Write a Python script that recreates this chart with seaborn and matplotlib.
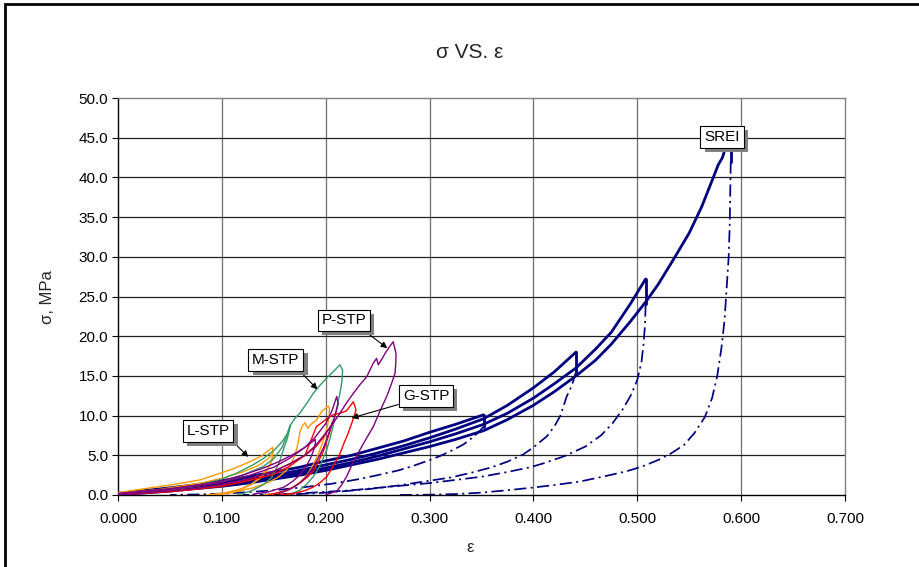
import seaborn as sns
import matplotlib
matplotlib.use("Agg")
from matplotlib import pyplot as plt
from matplotlib import patheffects
from matplotlib.patches import Rectangle

# ---- SREI loading curves (solid) ----
srei_l1_x = [0.0, 0.025, 0.05, 0.075, 0.10, 0.125, 0.15, 0.175, 0.20, 0.225, 0.25, 0.275,
             0.30, 0.325, 0.352]
srei_l1_y = [0.2, 0.55, 0.9, 1.3, 1.8, 2.3, 2.9, 3.5, 4.3, 5.0, 5.9, 6.8,
             7.9, 8.9, 10.1]
srei_l2_x = [0.0, 0.025, 0.05, 0.075, 0.10, 0.125, 0.15, 0.175, 0.20, 0.225, 0.25, 0.275,
             0.30, 0.325, 0.352, 0.375, 0.40, 0.42, 0.441]
srei_l2_y = [0.1, 0.4, 0.7, 1.1, 1.5, 2.0, 2.5, 3.1, 3.8, 4.5, 5.3, 6.2,
             7.2, 8.3, 9.6, 11.3, 13.5, 15.5, 18.0]
srei_l3_x = [0.0, 0.025, 0.05, 0.075, 0.10, 0.125, 0.15, 0.175, 0.20, 0.225, 0.25, 0.275,
             0.30, 0.325, 0.352, 0.375, 0.40, 0.42, 0.441, 0.46, 0.475, 0.493, 0.508]
srei_l3_y = [0.1, 0.35, 0.6, 0.95, 1.3, 1.75, 2.2, 2.8, 3.4, 4.1, 4.9, 5.8,
             6.7, 7.7, 8.9, 10.3, 12.2, 14.0, 16.0, 18.4, 20.5, 24.0, 27.2]
srei_l4_x = [0.0, 0.025, 0.05, 0.075, 0.10, 0.125, 0.15, 0.175, 0.20, 0.225, 0.25, 0.275,
             0.30, 0.325, 0.352, 0.375, 0.40, 0.42, 0.441, 0.46, 0.475, 0.493, 0.508,
             0.52, 0.535, 0.55, 0.562, 0.572, 0.578, 0.582, 0.586, 0.590]
srei_l4_y = [0.05, 0.25, 0.5, 0.8, 1.1, 1.5, 2.0, 2.5, 3.1, 3.8, 4.5, 5.3,
             6.1, 7.0, 8.1, 9.5, 11.3, 13.0, 15.0, 17.0, 19.0, 21.8, 24.3,
             26.5, 29.7, 33.0, 36.3, 39.6, 41.6, 42.5, 44.2, 46.0]
# vertical relaxation at each peak (solid)
srei_drop_x = [0.352, 0.441, 0.508, 0.590]
srei_drop_top = [10.1, 18.0, 27.2, 46.0]
srei_drop_bot = [8.6, 15.5, 24.0, 42.0]

# ---- SREI unloading curves (dash-dot) ----
srei_u1_x = [0.352, 0.347, 0.342, 0.333, 0.323, 0.31, 0.30, 0.285, 0.27, 0.25, 0.23, 0.205,
             0.18, 0.155, 0.13, 0.105, 0.08, 0.05]
srei_u1_y = [8.6, 7.9, 7.3, 6.4, 5.7, 4.9, 4.4, 3.7, 3.1, 2.5, 1.95, 1.4,
             1.0, 0.65, 0.4, 0.2, 0.08, 0.0]
srei_u2_x = [0.441, 0.437, 0.432, 0.426, 0.42, 0.413, 0.40, 0.39, 0.375, 0.36, 0.34, 0.32,
             0.295, 0.27, 0.245, 0.22, 0.195, 0.17, 0.14]
srei_u2_y = [15.5, 13.8, 12.4, 10.0, 8.6, 7.4, 6.0, 5.1, 4.2, 3.5, 2.8, 2.2,
             1.7, 1.2, 0.8, 0.5, 0.25, 0.1, 0.0]
srei_u3_x = [0.508, 0.5075, 0.506, 0.504, 0.500, 0.494, 0.486, 0.476, 0.465, 0.45, 0.43, 0.41,
             0.397, 0.375, 0.35, 0.325, 0.30, 0.275, 0.25, 0.225, 0.20, 0.175, 0.15, 0.12]
srei_u3_y = [24.0, 21.5, 19.0, 16.7, 14.5, 12.6, 10.8, 9.0, 7.5, 6.1, 4.9, 4.0,
             3.5, 2.9, 2.3, 1.9, 1.5, 1.2, 0.9, 0.6, 0.4, 0.2, 0.08, 0.0]
srei_u4_x = [0.590, 0.5895, 0.589, 0.588, 0.586, 0.584, 0.581, 0.577, 0.572, 0.565, 0.555,
             0.545, 0.532, 0.52, 0.505, 0.49, 0.47, 0.445, 0.42, 0.397, 0.375, 0.35,
             0.325, 0.30, 0.27]
srei_u4_y = [42.0, 38.0, 34.0, 30.0, 26.0, 22.0, 18.5, 15.0, 12.2, 9.8, 7.8,
             6.3, 5.2, 4.4, 3.6, 3.0, 2.4, 1.7, 1.25, 0.9, 0.6, 0.3,
             0.12, 0.04, 0.0]

# ---- L-STP (orange) ----
lstp_1_x = [0.0, 0.031, 0.055, 0.079, 0.095, 0.111, 0.127, 0.138, 0.146, 0.149, 0.149,
            0.147, 0.143, 0.137, 0.128, 0.115, 0.10, 0.085]
lstp_1_y = [0.3, 0.9, 1.35, 1.9, 2.6, 3.3, 4.2, 4.9, 5.7, 6.0, 4.7,
            3.9, 3.0, 2.1, 1.3, 0.6, 0.2, 0.0]
lstp_2_x = [0.0, 0.04, 0.08, 0.10, 0.12, 0.135, 0.145, 0.149, 0.148, 0.145, 0.138, 0.130,
            0.12, 0.105, 0.092]
lstp_2_y = [0.2, 0.7, 1.5, 2.1, 2.9, 3.7, 4.6, 5.3, 4.3, 3.5, 2.4, 1.5,
            0.8, 0.3, 0.0]
lstp_3_x = [0.092, 0.11, 0.13, 0.145, 0.155, 0.162, 0.167, 0.170, 0.173, 0.175, 0.177, 0.180,
            0.183, 0.1865, 0.191, 0.196, 0.2025, 0.2035, 0.2035, 0.2015, 0.198, 0.193, 0.188,
            0.183, 0.177, 0.170, 0.162, 0.155, 0.140]
lstp_3_y = [0.0, 0.3, 0.9, 1.6, 2.3, 3.1, 4.0, 4.9, 6.3, 7.8, 8.6, 9.1,
            8.4, 9.0, 9.4, 10.5, 11.2, 11.0, 10.0, 8.6, 7.0, 5.2, 3.8,
            2.7, 1.8, 1.1, 0.5, 0.25, 0.0]

# ---- M-STP (green) ----
mstp_1_x = [0.0, 0.05, 0.08, 0.10, 0.115, 0.13, 0.14, 0.15, 0.158, 0.163, 0.166, 0.165,
            0.163, 0.160, 0.155, 0.148, 0.14, 0.128, 0.115]
mstp_1_y = [0.1, 0.7, 1.3, 2.0, 2.8, 3.8, 4.6, 5.6, 6.7, 7.7, 8.8, 8.2,
            7.1, 6.0, 4.0, 2.2, 1.3, 0.5, 0.0]
mstp_2_x = [0.0, 0.05, 0.08, 0.10, 0.12, 0.14, 0.15, 0.158, 0.162, 0.166, 0.170, 0.175,
            0.182, 0.188, 0.193, 0.200, 0.207, 0.2137, 0.2163, 0.2155, 0.2137, 0.210, 0.207,
            0.204, 0.201, 0.195, 0.188, 0.182, 0.175, 0.168, 0.162]
mstp_2_y = [0.1, 0.6, 1.2, 1.7, 2.5, 3.6, 4.6, 6.0, 7.3, 8.8, 9.6, 10.3,
            11.6, 12.8, 13.6, 14.6, 15.5, 16.4, 15.7, 14.2, 12.8, 10.6, 8.6,
            7.1, 5.7, 3.8, 2.3, 1.4, 0.6, 0.2, 0.0]

# ---- P-STP (purple) ----
pstp_1_x = [0.0, 0.05, 0.08, 0.10, 0.12, 0.14, 0.155, 0.17, 0.18, 0.19, 0.19, 0.188,
            0.185, 0.18, 0.175, 0.168, 0.16, 0.145, 0.13]
pstp_1_y = [0.2, 0.8, 1.3, 1.8, 2.5, 3.4, 4.2, 5.2, 6.0, 7.0, 6.5, 5.5,
            4.5, 3.4, 2.5, 1.7, 1.0, 0.4, 0.1]
pstp_2_x = [0.0, 0.05, 0.08, 0.10, 0.125, 0.15, 0.165, 0.18, 0.19, 0.20, 0.206, 0.2106,
            0.212, 0.209, 0.205, 0.198, 0.193, 0.188, 0.182, 0.175, 0.165, 0.155]
pstp_2_y = [0.1, 0.7, 1.2, 1.6, 2.4, 3.5, 4.6, 6.0, 7.3, 9.0, 10.6, 12.4,
            11.5, 10.0, 8.5, 6.0, 4.7, 3.5, 2.4, 1.5, 0.7, 0.2]
pstp_3_x = [0.0, 0.05, 0.08, 0.10, 0.125, 0.15, 0.165, 0.18, 0.19, 0.20, 0.207, 0.2137,
            0.220, 0.2266, 0.233, 0.2395, 0.2458, 0.249, 0.2506, 0.254, 0.257, 0.261, 0.265,
            0.2677, 0.2675, 0.2667, 0.263, 0.2587, 0.252, 0.2458, 0.239, 0.233, 0.226,
            0.220, 0.215, 0.2106, 0.20]
pstp_3_y = [0.0, 0.5, 0.9, 1.3, 2.0, 3.0, 3.9, 5.0, 6.2, 7.8, 9.0, 10.3,
            11.6, 12.8, 13.9, 14.9, 16.6, 17.2, 16.4, 17.1, 17.8, 18.6, 19.3,
            17.8, 16.6, 15.3, 13.9, 12.4, 10.5, 8.6, 7.1, 5.7, 4.0,
            2.3, 1.2, 0.5, 0.0]

# ---- G-STP (red) ----
gstp_1_x = [0.0, 0.05, 0.08, 0.10, 0.125, 0.15, 0.165, 0.18, 0.19, 0.198, 0.205, 0.207,
            0.206, 0.204, 0.198, 0.193, 0.188, 0.182, 0.175, 0.168, 0.16, 0.145]
gstp_1_y = [0.1, 0.5, 0.9, 1.3, 2.0, 3.0, 3.9, 5.0, 6.0, 7.3, 8.7, 9.3,
            9.0, 8.0, 5.6, 4.2, 3.0, 2.2, 1.5, 0.9, 0.5, 0.0]
gstp_2_x = [0.0, 0.05, 0.08, 0.10, 0.125, 0.15, 0.165, 0.18, 0.191, 0.200, 0.207, 0.214,
            0.220, 0.2266, 0.2292, 0.2255, 0.2217, 0.2175, 0.2137, 0.207, 0.201, 0.195,
            0.188, 0.180, 0.169, 0.155]
gstp_2_y = [0.0, 0.4, 0.8, 1.1, 1.8, 2.6, 3.6, 5.0, 8.6, 9.5, 10.1, 10.3,
            10.6, 11.75, 10.7, 9.2, 7.8, 6.5, 5.2, 3.6, 2.3, 1.6,
            1.0, 0.55, 0.2, 0.0]

x_ticks = [0.0, 0.1, 0.2, 0.3, 0.4, 0.5, 0.6, 0.7]
y_ticks = [0, 5, 10, 15, 20, 25, 30, 35, 40, 45, 50]

# labels: text, box centre, arrow start, arrow tip (None = no arrow)
labels = ["SREI", "P-STP", "M-STP", "G-STP", "L-STP"]
label_xy = [(0.5816, 45.1), (0.2175, 22.0), (0.152, 17.0), (0.2966, 12.5), (0.0867, 8.1)]
arrow_from = [None, (0.238, 20.6), (0.175, 15.6), (0.270, 11.4), (0.110, 6.8)]
label_tip = [None, (0.2593, 18.5), (0.192, 13.3), (0.225, 9.7), (0.1255, 4.8)]

NAVY = "#000080"
ORANGE = "#FF9900"
GREEN = "#339966"
PURPLE = "#800080"
RED = "#FF0000"

sns.set_theme(style="white")
plt.rcParams["font.family"] = ["Liberation Sans", "DejaVu Sans"]

fig = plt.figure(figsize=(9.19, 5.67), dpi=100)
ax = fig.add_axes([118 / 919, 1 - 495 / 567, 727 / 919, 397 / 567])


def draw(x, y, color, lw, ls="-", z=3):
    sns.lineplot(x=x, y=y, sort=False, estimator=None, color=color,
                 linewidth=lw, linestyle=ls, ax=ax, zorder=z)


# STP curves (thin)
stp = [(lstp_1_x, lstp_1_y, ORANGE), (lstp_2_x, lstp_2_y, ORANGE), (lstp_3_x, lstp_3_y, ORANGE),
       (mstp_1_x, mstp_1_y, GREEN), (mstp_2_x, mstp_2_y, GREEN),
       (gstp_1_x, gstp_1_y, RED), (gstp_2_x, gstp_2_y, RED),
       (pstp_1_x, pstp_1_y, PURPLE), (pstp_2_x, pstp_2_y, PURPLE), (pstp_3_x, pstp_3_y, PURPLE)]
for x, y, c in stp:
    draw(x, y, c, 1.0, z=3)

# SREI unloading (dash-dot)
dashdot = (0, (7, 2.5, 1.2, 2.5))
for x, y in [(srei_u1_x, srei_u1_y), (srei_u2_x, srei_u2_y),
             (srei_u3_x, srei_u3_y), (srei_u4_x, srei_u4_y)]:
    draw(x, y, NAVY, 1.25, ls=dashdot, z=2)

# SREI loading (solid, thick)
for x, y in [(srei_l1_x, srei_l1_y), (srei_l2_x, srei_l2_y),
             (srei_l3_x, srei_l3_y), (srei_l4_x, srei_l4_y)]:
    draw(x, y, NAVY, 2.0, z=2.5)
for xd, yt, yb in zip(srei_drop_x, srei_drop_top, srei_drop_bot):
    draw([xd, xd], [yt, yb], NAVY, 2.0, z=2.5)

ax.set_xlim(0, 0.7)
ax.set_ylim(0, 50)
ax.set_xticks(x_ticks)
ax.set_yticks(y_ticks)
ax.set_xticklabels([f"{v:.3f}" for v in x_ticks], fontsize=11)
ax.set_yticklabels([f"{v:.1f}" for v in y_ticks], fontsize=11)
ax.set_xlabel("")
ax.set_ylabel("")
ax.grid(False)
for v in x_ticks[1:-1]:
    ax.axvline(v, color="#6e6e6e", lw=0.9, zorder=1)
for v in y_ticks[1:-1]:
    ax.axhline(v, color="#202020", lw=0.9, zorder=1)
ax.tick_params(axis="both", direction="out", length=4, width=0.8, color="black",
               labelcolor="black", pad=3, bottom=True, left=True)
ax.tick_params(axis="x", pad=8)
for side in ["left", "bottom"]:
    ax.spines[side].set_color("black")
    ax.spines[side].set_linewidth(1.0)
for side in ["top", "right"]:
    ax.spines[side].set_color("#808080")
    ax.spines[side].set_linewidth(1.0)

# annotation boxes with drop shadow
for txt, xy, src, tip in zip(labels, label_xy, arrow_from, label_tip):
    if tip is not None:
        ax.annotate("", xy=tip, xytext=src,
                    arrowprops=dict(arrowstyle="-|>", color="black", lw=0.8,
                                    mutation_scale=9, shrinkA=0, shrinkB=0),
                    zorder=6)
    t = ax.text(xy[0], xy[1], txt, ha="center", va="center", fontsize=11, color="black",
                zorder=8, bbox=dict(boxstyle="square,pad=0.25", fc="white", ec="black", lw=0.8))
    t.get_bbox_patch().set_path_effects([
        patheffects.SimplePatchShadow(offset=(3, -3), shadow_rgbFace="#808080", alpha=1.0),
        patheffects.Normal()])

fig.text(470 / 919, 1 - 52 / 567, "σ VS. ε", ha="center", va="center", fontsize=15)
fig.text(470 / 919, 1 - 548 / 567, "ε", ha="center", va="center", fontsize=12)
fig.text(48 / 919, 1 - 297 / 567, "σ, MPa", ha="center", va="center", fontsize=12,
         rotation=90)

# outer chart border (only left and top edges fall inside the image)
fig.patches.append(Rectangle((5 / 919, -0.1), 1.2, 1.1 - 4 / 567, transform=fig.transFigure,
                             fill=False, ec="black", lw=2.0, zorder=10))

fig.savefig("out.png", dpi=100)
